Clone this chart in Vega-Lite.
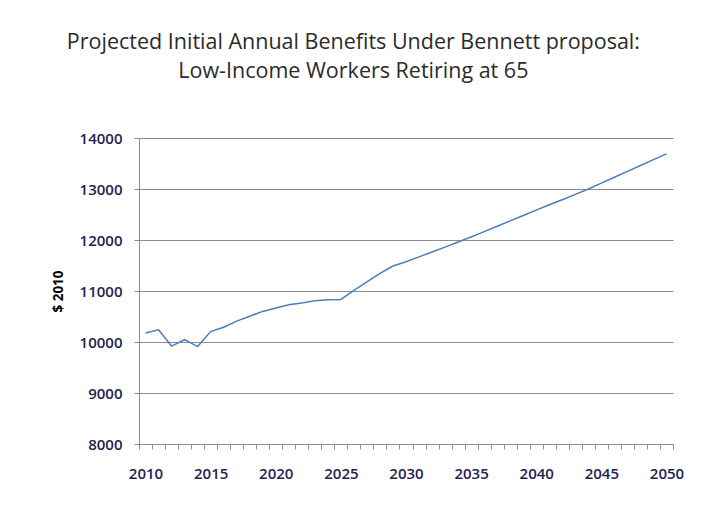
{
  "$schema": "https://vega.github.io/schema/vega-lite/v6.json",
  "width": 534,
  "height": 306,
  "autosize": {"type": "none"},
  "padding": {"left": 139, "top": 138, "right": 47, "bottom": 68},
  "background": "white",
  "title": {
    "text": ["Projected Initial Annual Benefits Under Bennett proposal:", "Low-Income Workers Retiring at 65"],
    "font": "Open Sans",
    "fontSize": 21.5,
    "fontWeight": "normal",
    "color": "#2b2b2b",
    "lineHeight": 29,
    "anchor": "middle",
    "frame": "bounds",
    "dx": -14,
    "offset": 49
  },
  "data": {
    "values": [
      {"year": 2010, "benefit": 10175},
      {"year": 2011, "benefit": 10240},
      {"year": 2012, "benefit": 9920},
      {"year": 2013, "benefit": 10045},
      {"year": 2014, "benefit": 9910},
      {"year": 2015, "benefit": 10205},
      {"year": 2016, "benefit": 10290},
      {"year": 2017, "benefit": 10410},
      {"year": 2018, "benefit": 10505},
      {"year": 2019, "benefit": 10600},
      {"year": 2020, "benefit": 10665},
      {"year": 2021, "benefit": 10730},
      {"year": 2022, "benefit": 10765},
      {"year": 2023, "benefit": 10810},
      {"year": 2024, "benefit": 10830},
      {"year": 2025, "benefit": 10835},
      {"year": 2026, "benefit": 11010},
      {"year": 2027, "benefit": 11180},
      {"year": 2028, "benefit": 11345},
      {"year": 2029, "benefit": 11490},
      {"year": 2030, "benefit": 11575},
      {"year": 2031, "benefit": 11670},
      {"year": 2032, "benefit": 11765},
      {"year": 2033, "benefit": 11860},
      {"year": 2034, "benefit": 11960},
      {"year": 2035, "benefit": 12060},
      {"year": 2036, "benefit": 12165},
      {"year": 2037, "benefit": 12270},
      {"year": 2038, "benefit": 12375},
      {"year": 2039, "benefit": 12480},
      {"year": 2040, "benefit": 12585},
      {"year": 2041, "benefit": 12690},
      {"year": 2042, "benefit": 12790},
      {"year": 2043, "benefit": 12895},
      {"year": 2044, "benefit": 13000},
      {"year": 2045, "benefit": 13115},
      {"year": 2046, "benefit": 13230},
      {"year": 2047, "benefit": 13345},
      {"year": 2048, "benefit": 13460},
      {"year": 2049, "benefit": 13575},
      {"year": 2050, "benefit": 13690}
    ]
  },
  "mark": {"type": "line", "color": "#4a7ebb", "strokeWidth": 1.5},
  "encoding": {
    "x": {
      "field": "year",
      "type": "ordinal",
      "scale": {"type": "band", "paddingInner": 0, "paddingOuter": 0},
      "axis": {
        "title": null,
        "labelExpr": "datum.value % 5 === 0 ? datum.label : ''",
        "labelOverlap": false,
        "labelAngle": 0,
        "ticks": true,
        "tickBand": "extent",
        "tickSize": 5,
        "tickColor": "#8c8c8c",
        "domainColor": "#8c8c8c",
        "grid": false,
        "labelFont": "Open Sans",
        "labelFontSize": 15,
        "labelFontWeight": 600,
        "labelColor": "#1f2350",
        "labelPadding": 17
      }
    },
    "y": {
      "field": "benefit",
      "type": "quantitative",
      "scale": {"domain": [8000, 14000], "nice": false, "zero": false},
      "axis": {
        "title": "$ 2010",
        "format": "d",
        "values": [8000, 9000, 10000, 11000, 12000, 13000, 14000],
        "tickSize": 5,
        "tickColor": "#8c8c8c",
        "domainColor": "#8c8c8c",
        "grid": true,
        "gridColor": "#8c8c8c",
        "labelFont": "Open Sans",
        "labelFontSize": 15,
        "labelFontWeight": 600,
        "labelColor": "#1f2350",
        "labelPadding": 12,
        "titleFont": "Open Sans",
        "titleFontSize": 13.5,
        "titleFontWeight": "bold",
        "titleColor": "#000000",
        "titlePadding": 14
      }
    }
  },
  "config": {"view": {"stroke": null}}
}
